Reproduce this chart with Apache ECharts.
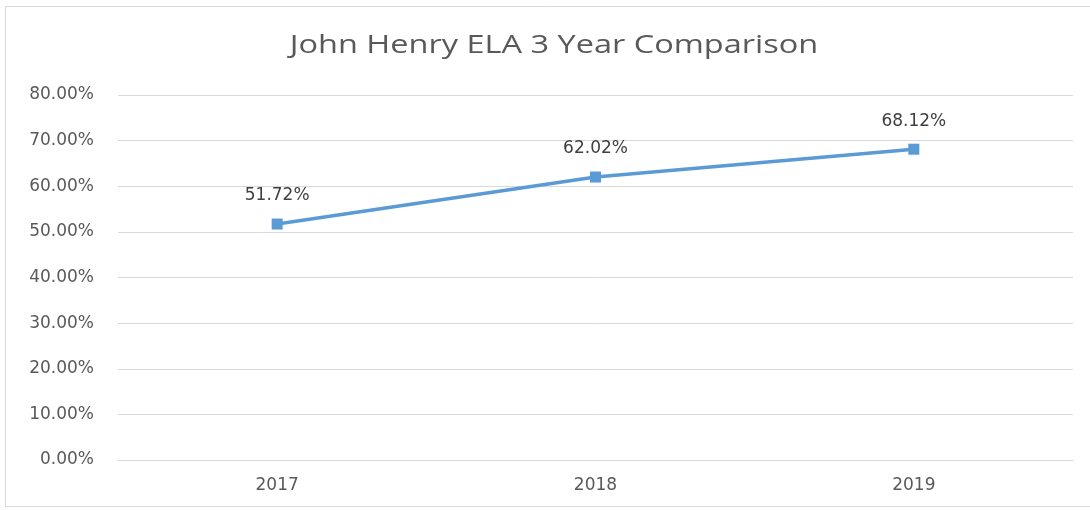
<!DOCTYPE html>
<html>
<head>
<meta charset="utf-8">
<script src="https://cdn.jsdelivr.net/npm/echarts@6/dist/echarts.min.js"></script>
<style>
html,body{margin:0;padding:0;background:#fff;}
#main{width:1090px;height:510px;}
</style>
</head>
<body>
<div id="main"></div>
<script>
const titleText = "John Henry ELA 3 Year Comparison";
const categories = ["2017", "2018", "2019"];
const values = [0.5172, 0.6202, 0.6812];

const chart = echarts.init(document.getElementById('main'));
chart.setOption({
  backgroundColor: '#ffffff',
  animation: false,
  graphic: [{
    type: 'rect',
    shape: { x: 5.5, y: 6.5, width: 1100, height: 500 },
    style: { fill: 'none', stroke: '#d9d9d9', lineWidth: 1 },
    silent: true
  }, {
    type: 'text',
    x: 554, y: 46,
    scaleX: 1.3, scaleY: 1,
    style: {
      text: titleText,
      font: 'normal 25px "Open Sans"',
      fill: '#595959',
      align: 'center',
      verticalAlign: 'middle'
    },
    silent: true
  }],
  grid: { left: 118, right: 17, top: 95, bottom: 50 },
  xAxis: {
    type: 'category',
    data: categories,
    axisLine: { show: true, lineStyle: { color: '#d9d9d9' } },
    axisTick: { show: false },
    axisLabel: { color: '#595959', fontFamily: 'DejaVu Sans', fontSize: 17, margin: 17 }
  },
  yAxis: {
    type: 'value',
    min: 0, max: 0.8, interval: 0.1,
    axisLine: { show: false },
    axisTick: { show: false },
    splitLine: { lineStyle: { color: '#d9d9d9' } },
    axisLabel: {
      color: '#595959', fontFamily: 'DejaVu Sans', fontSize: 17, margin: 24,
      formatter: v => (v * 100).toFixed(2) + '%'
    }
  },
  series: [{
    type: 'line',
    data: values,
    symbol: 'rect',
    symbolSize: 11,
    lineStyle: { color: '#5b9bd5', width: 3.5 },
    itemStyle: { color: '#5b9bd5' },
    label: {
      show: true,
      position: 'top',
      distance: 14,
      color: '#404040',
      fontFamily: 'DejaVu Sans',
      fontSize: 17,
      formatter: p => (p.value * 100).toFixed(2) + '%'
    }
  }]
});
</script>
</body>
</html>
